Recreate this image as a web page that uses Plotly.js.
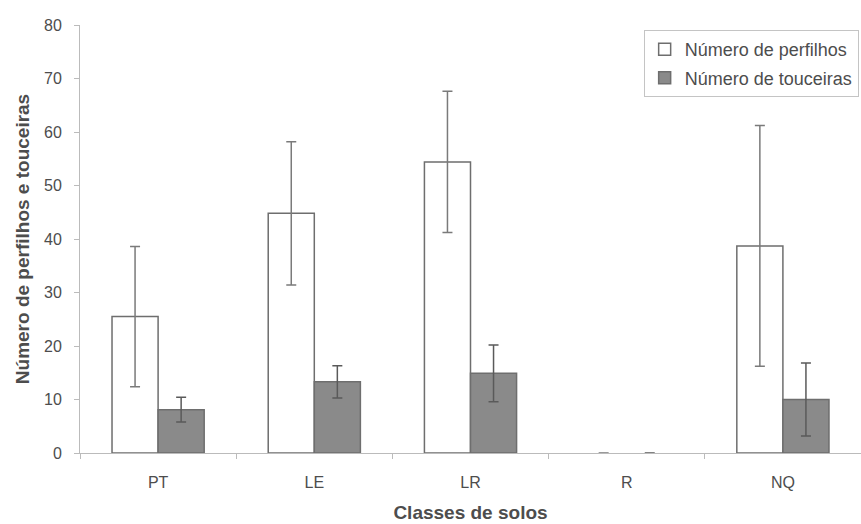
<!DOCTYPE html>
<html>
<head>
<meta charset="utf-8">
<script src="https://cdn.plot.ly/plotly-3.0.1.min.js"></script>
<style>html,body{margin:0;padding:0;background:#fff;}#chart{width:861px;height:524px;}</style>
</head>
<body>
<div id="chart"></div>
<script>
const categories = ["PT", "LE", "LR", "R", "NQ"];
const perfilhos = [25.5, 44.8, 54.4, 0, 38.7];
const perfilhosErr = [13.1, 13.4, 13.2, 0, 22.5];
const touceiras = [8.1, 13.3, 14.9, 0, 10.0];
const touceirasErr = [2.3, 3.0, 5.3, 0, 6.8];
const yTicks = [0, 10, 20, 30, 40, 50, 60, 70, 80];

const fontFam = "Liberation Sans, Arial, sans-serif";
const txt = "#4d4d4d";
const lineW = v => v.map(d => (d === 0 ? 0 : 1.5));

const traces = [
  {
    type: "bar", name: "Número de perfilhos", x: categories, y: perfilhos, legendgroup: "a",
    marker: {color: "#ffffff", line: {color: "#6e6e6e", width: lineW(perfilhos)}},
    error_y: {type: "data", array: perfilhosErr, visible: true, color: "#7a7a7a", thickness: 1.5, width: 5}
  },
  {
    type: "bar", name: "Número de touceiras", x: categories, y: touceiras, legendgroup: "b",
    marker: {color: "#8a8a8a", line: {color: "#6e6e6e", width: lineW(touceiras)}},
    error_y: {type: "data", array: touceirasErr, visible: true, color: "#5a5a5a", thickness: 1.5, width: 5}
  }
];

const layout = {
  width: 861, height: 524,
  margin: {l: 80, r: 0, t: 25, b: 71},
  paper_bgcolor: "#ffffff", plot_bgcolor: "#ffffff",
  font: {family: fontFam, color: txt, size: 16},
  barmode: "group", bargap: 0.41, bargroupgap: 0,
  showlegend: true,
  legend: {
    x: 0.997, y: 0.988, xanchor: "right", yanchor: "top",
    bordercolor: "#c4c4c4", borderwidth: 1, bgcolor: "#ffffff",
    font: {size: 18, color: txt}, itemwidth: 30, tracegroupgap: 2
  },
  xaxis: {
    type: "category", tickson: "boundaries", ticks: "outside", ticklen: 5, tickcolor: "#bbbbbb",
    showline: true, linecolor: "#bbbbbb", linewidth: 1, showgrid: false, zeroline: false,
    tickfont: {size: 16, color: txt}, ticklabelstandoff: 15,
    title: {text: "Classes de solos", font: {size: 19, color: txt, weight: "bold"}, standoff: 15}
  },
  yaxis: {
    range: [0, 80], tickvals: yTicks, ticks: "outside", ticklen: 5, tickcolor: "#bbbbbb",
    showline: true, linecolor: "#bbbbbb", linewidth: 1, showgrid: false, zeroline: false,
    tickfont: {size: 16, color: txt}, ticklabelstandoff: 9,
    title: {text: "Número de perfilhos e touceiras", font: {size: 19, color: txt, weight: "bold"}, standoff: 9}
  }
};

Plotly.newPlot("chart", traces, layout, {displayModeBar: false, staticPlot: true});
</script>
</body>
</html>
